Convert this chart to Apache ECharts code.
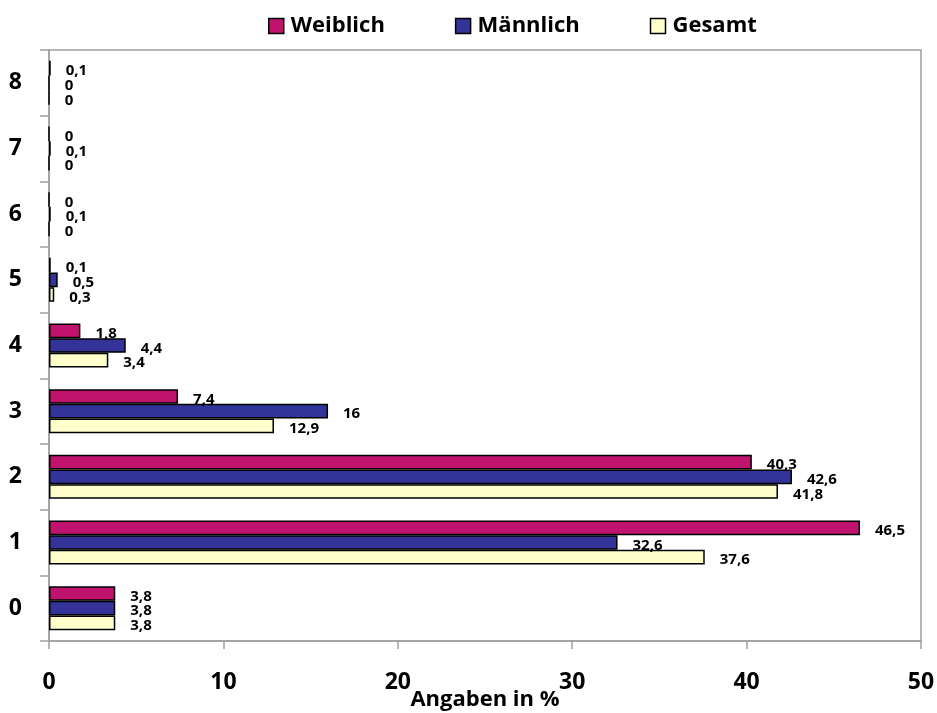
<!DOCTYPE html>
<html><head><meta charset="utf-8">
<script src="https://cdn.jsdelivr.net/npm/echarts@6/dist/echarts.min.js"></script>
<style>html,body{margin:0;padding:0;background:#fff}#c{width:937px;height:713px}</style>
</head><body><div id="c"></div>
<script>
const categories = ['0','1','2','3','4','5','6','7','8'];
const weiblich = [3.8, 46.5, 40.3, 7.4, 1.8, 0.1, 0, 0, 0.1];
const maennlich = [3.8, 32.6, 42.6, 16, 4.4, 0.5, 0.1, 0.1, 0];
const gesamt = [3.8, 37.6, 41.8, 12.9, 3.4, 0.3, 0, 0, 0];
const xTicks = [0, 10, 20, 30, 40, 50];

const FONT = '"Open Sans", "Liberation Sans", sans-serif';
const lbl = {
  show: true, position: 'right', distance: 15, offset: [0, 3],
  fontFamily: FONT, fontWeight: 'bold', fontSize: 15, color: '#000',
  formatter: p => String(p.value).replace('.', ',')
};
function mk(name, data, color) {
  return {
    name, type: 'bar', data,
    itemStyle: { color, borderColor: '#000', borderWidth: 1.5 },
    label: lbl, barGap: '0%', barCategoryGap: '33%'
  };
}
const chart = echarts.init(document.getElementById('c'));
chart.setOption({
  animation: false,
  textStyle: { fontFamily: FONT },
  legend: {
    top: 10, left: 263, itemGap: 70,
    data: ['Weiblich', 'Männlich', 'Gesamt'],
    icon: 'rect', itemWidth: 15, itemHeight: 15,
    itemStyle: { borderColor: '#000', borderWidth: 1.5 },
    textStyle: { fontFamily: FONT, fontWeight: 'bold', fontSize: 22, color: '#000', padding: [0, 0, 0, 2] }
  },
  grid: { left: 49, right: 16, top: 50, bottom: 72, containLabel: false, outerBoundsMode: 'none', show: true, borderColor: '#a0a0a0', borderWidth: 1.5 },
  xAxis: {
    type: 'value', min: xTicks[0], max: xTicks[xTicks.length - 1], interval: 10,
    name: 'Angaben in %', nameLocation: 'middle', nameGap: 48, nameMoveOverlap: false,
    nameTextStyle: { fontFamily: FONT, fontWeight: 'bold', fontSize: 22, color: '#000' },
    axisLine: { show: true, lineStyle: { color: '#a0a0a0', width: 1.5 } },
    axisTick: { show: true, length: 8, lineStyle: { color: '#a0a0a0', width: 1.5 } },
    splitLine: { show: false },
    axisLabel: { margin: 30, fontFamily: FONT, fontWeight: 'bold', fontSize: 23, color: '#000' }
  },
  yAxis: {
    type: 'category', data: categories,
    axisLine: { show: true, lineStyle: { color: '#a0a0a0', width: 1.5 } },
    axisTick: { show: true, length: 9, lineStyle: { color: '#a0a0a0', width: 1.5 } },
    axisLabel: { margin: 27, fontFamily: FONT, fontWeight: 'bold', fontSize: 23, color: '#000' }
  },
  series: [
    mk('Weiblich', weiblich, '#C0136E'),
    mk('Männlich', maennlich, '#333399'),
    mk('Gesamt', gesamt, '#FFFFCC')
  ]
});
</script></body></html>
